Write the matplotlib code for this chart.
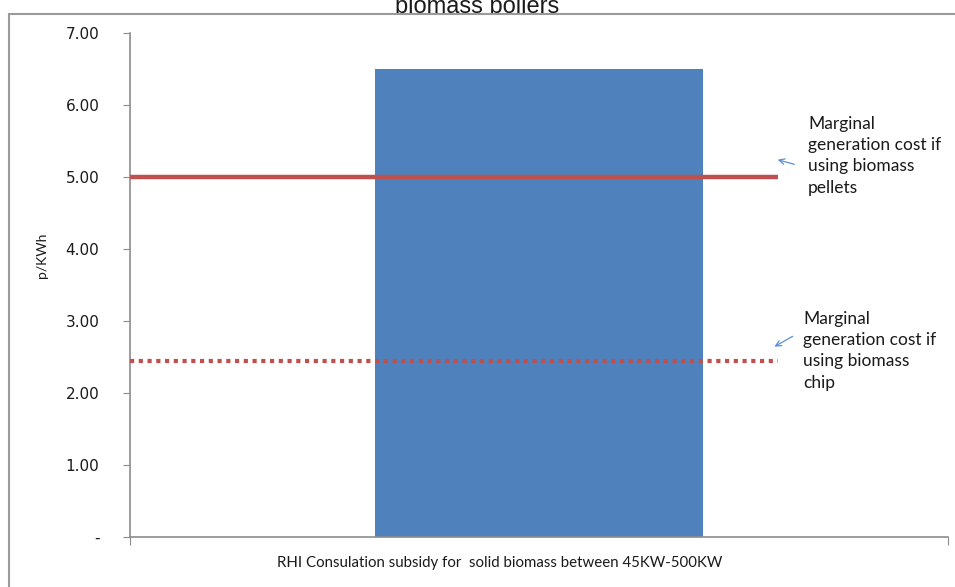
import matplotlib.pyplot as plt
from matplotlib.patches import Rectangle

# data
categories = ['RHI Consulation subsidy for  solid biomass between 45KW-500KW']
subsidy = [6.5]
pellet_cost = 5.0
chip_cost = 2.45
yticks = [0, 1, 2, 3, 4, 5, 6, 7]
ytick_labels = ['-', '1.00', '2.00', '3.00', '4.00', '5.00', '6.00', '7.00']

BLUE = '#4F81BD'
RED = '#C0504D'
GREY = '#8C8C8C'
TXT = '#1A1A1A'

fig = plt.figure(figsize=(9.55, 5.87), dpi=100)

# outer chart frame (right/bottom edges fall outside the image)
fig.patches.append(Rectangle((9 / 955, -0.1), 1.2, 1 - 14 / 587 + 0.1,
                             transform=fig.transFigure, fill=False,
                             edgecolor='#9A9A9A', linewidth=1.5))

# title, cut off at the top edge
fig.text(477 / 955, 1 - 13 / 587, 'biomass boilers', ha='center', va='baseline',
         fontsize=17, family='Liberation Sans', color=TXT)

ax = fig.add_axes([130 / 955, 1 - 537 / 587, 818 / 955, 504 / 587])
ax.bar([0], subsidy, width=0.4, color=BLUE, zorder=2)

x_end = -0.5 + (778 - 130) / 818
ax.plot([-0.5, x_end], [pellet_cost, pellet_cost], color=RED, lw=3.2,
        solid_capstyle='butt', zorder=3)
ax.plot([-0.5, x_end], [chip_cost, chip_cost], color=RED, lw=3,
        linestyle=(0, (1, 1.1)), zorder=3)

ax.set_xlim(-0.5, 0.5)
ax.set_ylim(0, 7)
ax.set_yticks(yticks)
ax.set_yticklabels(ytick_labels, family='DejaVu Sans', fontsize=11, color=TXT)
ax.tick_params(axis='y', length=5, color=GREY, pad=17)
ax.set_xticks([-0.5, 0.5])
ax.set_xticklabels([])
ax.tick_params(axis='x', length=6, color=GREY)
for s in ['top', 'right']:
    ax.spines[s].set_visible(False)
for s in ['left', 'bottom']:
    ax.spines[s].set_color(GREY)
    ax.spines[s].set_linewidth(1.2)

fig.text(500 / 955, 1 - 563 / 587, categories[0], ha='center', va='center',
         fontsize=10.8, family='Lato', color=TXT)
fig.text(42 / 955, 1 - 255 / 587, 'p/KWh', rotation=90, ha='center', va='center',
         fontsize=10, family='Lato', color=TXT)

# side notes with arrows
note = 'Marginal\ngeneration cost if\nusing biomass\n'
fig.text(808 / 955, 1 - 116 / 587, note + 'pellets', ha='left', va='top',
         fontsize=12.5, family='Lato', color=TXT, linespacing=1.4)
fig.text(803 / 955, 1 - 311 / 587, note + 'chip', ha='left', va='top',
         fontsize=12.5, family='Lato', color=TXT, linespacing=1.4)
arrow = dict(arrowstyle='->', color='#5B8FD6', lw=0.9)
ax.annotate('', xy=(775 / 955, 1 - 159 / 587), xytext=(797 / 955, 1 - 165 / 587),
            xycoords='figure fraction', textcoords='figure fraction', arrowprops=arrow)
ax.annotate('', xy=(772 / 955, 1 - 348 / 587), xytext=(795 / 955, 1 - 335 / 587),
            xycoords='figure fraction', textcoords='figure fraction', arrowprops=arrow)

fig.savefig('out.png', dpi=100)
